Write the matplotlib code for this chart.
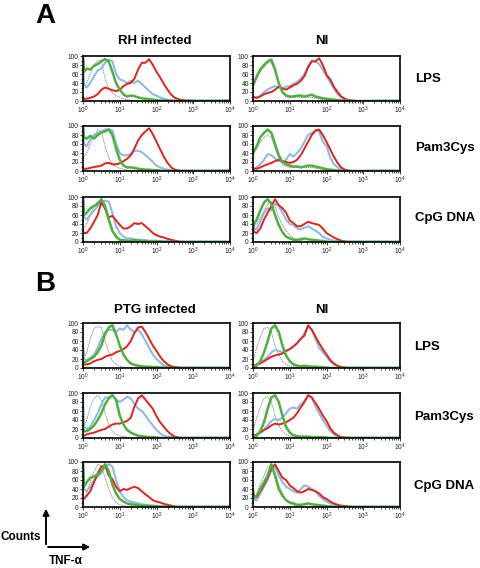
import matplotlib
matplotlib.use("Agg")
import matplotlib.pyplot as plt
from matplotlib.ticker import FixedLocator, LogLocator, NullFormatter

plt.rcParams['font.family'] = ['Liberation Sans', 'DejaVu Sans']

# fluorescence bin centres (TNF-alpha intensity)
X = [1.0, 1.07, 1.26, 1.58, 2.0, 2.51, 3.16, 3.98, 5.01, 6.31, 7.94, 10.0, 12.6, 15.8,
     20.0, 25.1, 31.6, 39.8, 50.1, 63.1, 79.4, 100, 126, 158, 200, 251, 316, 398, 501,
     631, 794, 1000, 3162, 10000]

col_titles_A = ["RH infected", "NI"]
col_titles_B = ["PTG infected", "NI"]
row_labels = ["LPS", "Pam3Cys", "CpG DNA"]
y_ticks = [0, 20, 40, 60, 80, 100]

# ---------------- Panel A, RH infected ----------------
A_rh_lps_red = [6,5,5,7,10,15,25,30,27,24,22,25,33,38,40,50,70,85,85,93,80,65,52,38,25,14,7,4,2,1,1,0,0,0]
A_rh_lps_blue = [100,35,30,40,55,68,72,85,92,88,60,48,45,40,45,40,45,38,30,22,15,12,8,5,3,2,1,1,1,1,1,1,1,2]
A_rh_lps_green = [100,65,72,70,78,82,88,93,88,65,40,25,15,10,12,11,8,6,5,4,3,2,1,1,1,0,0,0,0,0,0,0,0,0]
A_rh_lps_gray = [30,30,40,60,80,90,88,50,28,18,12,8,5,3,2,1,0,0,0,0,0,0,0,0,0,0,0,0,0,0,0,0,0,0]

A_rh_pam_red = [5,5,5,7,9,10,12,17,18,15,15,17,22,27,35,50,68,80,88,95,82,65,48,32,18,8,3,1,0,0,0,0,0,0]
A_rh_pam_blue = [100,60,55,70,80,85,88,92,93,90,60,40,35,35,38,45,45,42,35,28,20,12,8,5,3,2,1,1,1,1,1,1,1,2]
A_rh_pam_green = [100,75,72,78,72,80,85,88,92,80,50,25,12,8,8,7,5,4,3,3,2,2,1,0,0,0,0,0,0,0,0,0,0,0]
A_rh_pam_gray = [30,30,40,60,75,92,88,55,30,15,10,6,4,2,1,0,0,0,0,0,0,0,0,0,0,0,0,0,0,0,0,0,0,0]

A_rh_cpg_red = [25,20,20,30,45,60,88,75,55,58,48,38,30,30,35,42,40,42,35,28,20,15,12,10,7,5,3,1,0,0,0,0,0,0]
A_rh_cpg_blue = [100,55,50,60,70,80,88,92,90,65,35,20,12,8,8,6,5,5,4,3,3,3,2,2,2,2,1,1,1,1,1,1,1,1]
A_rh_cpg_green = [100,60,65,75,80,85,95,80,50,25,12,5,4,3,3,4,3,2,2,1,1,1,1,0,0,0,0,0,0,0,0,0,0,0]
A_rh_cpg_gray = [30,30,40,60,80,90,88,70,45,22,10,5,3,2,1,0,0,0,0,0,0,0,0,0,0,0,0,0,0,0,0,0,0,0]

# ---------------- Panel A, NI ----------------
A_ni_lps_red = [10,8,7,10,15,18,20,25,32,28,25,30,35,38,45,55,75,88,88,95,80,58,48,32,20,10,5,2,1,0,0,0,0,0]
A_ni_lps_blue = [10,8,8,12,20,25,30,33,30,28,32,33,38,42,50,60,78,90,88,82,70,55,42,28,15,8,3,2,1,0,0,0,1,1]
A_ni_lps_green = [35,40,55,70,80,88,92,70,40,20,12,10,10,12,12,10,12,14,10,8,6,5,4,3,2,1,1,0,0,0,0,0,0,0]
A_ni_lps_gray = [30,35,50,65,75,85,85,65,35,18,10,8,8,8,8,8,8,8,6,5,3,2,0,0,0,0,0,0,0,0,0,0,0,0]

A_ni_pam_red = [5,5,5,8,12,15,18,22,25,22,20,18,20,25,35,50,65,80,90,92,80,65,48,32,18,8,3,1,0,0,0,0,0,0]
A_ni_pam_blue = [5,5,8,15,25,38,35,28,22,20,25,38,32,40,50,65,80,85,90,88,65,55,30,15,8,3,1,0,0,0,0,0,1,1]
A_ni_pam_green = [40,45,55,75,85,92,85,60,35,20,15,12,10,10,8,10,12,12,10,8,6,4,3,2,1,0,0,0,0,0,0,0,0,0]
A_ni_pam_gray = [35,40,50,65,75,80,75,50,30,15,10,8,8,8,8,8,8,8,6,5,3,2,0,0,0,0,0,0,0,0,0,0,0,0]

A_ni_cpg_red = [30,22,20,30,50,65,80,95,82,75,65,48,42,35,35,40,45,42,40,38,30,20,15,10,6,3,1,0,0,0,0,0,0,0]
A_ni_cpg_blue = [35,30,28,45,65,75,70,85,80,65,50,40,38,30,28,32,35,30,25,20,12,8,5,3,2,1,1,1,1,1,1,1,1,1]
A_ni_cpg_green = [30,40,50,70,88,95,85,60,38,22,12,8,5,5,6,8,6,5,4,3,2,1,0,0,0,0,0,0,0,0,0,0,0,0]
A_ni_cpg_gray = [30,32,40,55,70,85,90,80,55,38,25,15,8,5,3,2,1,0,0,0,0,0,0,0,0,0,0,0,0,0,0,0,0,0]

# ---------------- Panel B, PTG infected ----------------
B_ptg_lps_red = [5,8,8,10,15,18,20,25,28,30,35,38,42,48,60,78,90,92,80,65,50,38,25,15,8,4,2,1,0,0,0,0,0,0]
B_ptg_lps_blue = [60,20,18,22,30,45,65,80,85,85,80,88,85,95,85,80,85,75,60,45,30,20,12,6,3,2,1,1,1,1,1,1,1,1]
B_ptg_lps_green = [15,12,15,20,25,35,50,75,90,95,75,50,30,18,10,7,5,4,3,3,2,2,1,1,0,0,0,0,0,0,0,0,0,0]
B_ptg_lps_gray = [20,22,35,65,88,92,90,60,35,15,8,4,2,1,0,0,0,0,0,0,0,0,0,0,0,0,0,0,0,0,0,0,0,0]

B_ptg_pam_red = [5,5,8,10,12,15,18,20,25,30,32,32,35,38,45,70,88,95,85,75,65,48,35,25,15,8,3,1,0,0,0,0,0,0]
B_ptg_pam_blue = [100,25,20,25,40,55,75,90,90,95,85,80,85,92,88,75,65,60,50,38,28,18,10,5,3,2,1,1,1,1,1,1,1,1]
B_ptg_pam_green = [20,15,15,20,28,40,55,75,88,95,85,50,30,18,12,8,5,4,3,2,2,1,0,0,0,0,0,0,0,0,0,0,0,0]
B_ptg_pam_gray = [20,25,40,70,88,95,85,55,30,15,8,5,3,2,1,0,0,0,0,0,0,0,0,0,0,0,0,0,0,0,0,0,0,0]

B_ptg_cpg_red = [20,18,25,35,55,75,90,92,70,62,45,35,40,38,42,45,42,35,28,22,15,12,10,7,5,3,1,0,0,0,0,0,0,0]
B_ptg_cpg_blue = [100,40,35,45,60,68,75,90,95,90,60,35,22,15,12,10,8,6,5,4,3,3,2,2,1,1,1,1,1,1,1,1,1,1]
B_ptg_cpg_green = [100,45,55,65,68,72,80,95,80,50,30,18,12,8,6,5,4,3,3,2,2,1,0,0,0,0,0,0,0,0,0,0,0,0]
B_ptg_cpg_gray = [15,20,30,55,80,95,90,65,40,20,10,5,3,1,0,0,0,0,0,0,0,0,0,0,0,0,0,0,0,0,0,0,0,0]

# ---------------- Panel B, NI ----------------
B_ni_lps_red = [5,5,8,10,15,20,25,28,30,32,38,42,48,55,65,72,95,85,70,55,42,30,18,10,5,2,1,0,0,0,0,0,0,0]
B_ni_lps_blue = [5,5,8,12,18,25,35,40,38,35,38,42,48,55,65,78,92,85,65,45,35,25,15,8,4,2,1,1,1,1,1,1,1,1]
B_ni_lps_green = [5,3,5,15,35,60,88,95,80,50,28,15,8,5,4,5,4,3,3,2,2,1,0,0,0,0,0,0,0,0,0,0,0,0]
B_ni_lps_gray = [20,25,45,70,88,90,80,50,30,15,8,5,3,1,0,0,0,0,0,0,0,0,0,0,0,0,0,0,0,0,0,0,0,0]

B_ni_pam_red = [5,5,8,12,18,22,28,32,30,32,35,40,45,55,68,80,95,90,78,65,50,38,22,12,6,2,1,0,0,0,0,0,0,0]
B_ni_pam_blue = [5,5,8,12,18,28,38,42,40,45,55,65,68,65,75,82,95,90,70,55,40,28,15,8,3,1,1,1,1,1,1,1,1,1]
B_ni_pam_green = [5,3,5,15,35,65,90,95,80,50,25,12,6,4,3,3,3,2,2,2,2,1,0,0,0,0,0,0,0,0,0,0,0,0]
B_ni_pam_gray = [20,25,45,70,88,92,80,50,28,15,8,4,2,1,0,0,0,0,0,0,0,0,0,0,0,0,0,0,0,0,0,0,0,0]

B_ni_cpg_red = [40,25,22,35,50,65,85,95,80,65,60,48,42,35,32,35,40,38,35,30,22,18,12,8,5,3,2,1,0,0,0,0,0,0]
B_ni_cpg_blue = [30,18,15,30,45,60,82,90,70,55,45,40,35,32,40,48,45,40,35,25,18,12,8,5,3,2,1,1,1,1,1,1,1,1]
B_ni_cpg_green = [30,20,25,40,55,70,95,70,40,25,15,10,8,5,5,6,8,6,5,4,3,2,1,0,0,0,0,0,0,0,0,0,0,0]
B_ni_cpg_gray = [10,15,30,50,70,88,95,75,50,30,15,8,4,2,1,0,0,0,0,0,0,0,0,0,0,0,0,0,0,0,0,0,0,0]

panels = [
    (83, 56, A_rh_lps_red, A_rh_lps_blue, A_rh_lps_green, A_rh_lps_gray),
    (83, 126, A_rh_pam_red, A_rh_pam_blue, A_rh_pam_green, A_rh_pam_gray),
    (83, 197, A_rh_cpg_red, A_rh_cpg_blue, A_rh_cpg_green, A_rh_cpg_gray),
    (253, 56, A_ni_lps_red, A_ni_lps_blue, A_ni_lps_green, A_ni_lps_gray),
    (253, 126, A_ni_pam_red, A_ni_pam_blue, A_ni_pam_green, A_ni_pam_gray),
    (253, 197, A_ni_cpg_red, A_ni_cpg_blue, A_ni_cpg_green, A_ni_cpg_gray),
    (83, 323, B_ptg_lps_red, B_ptg_lps_blue, B_ptg_lps_green, B_ptg_lps_gray),
    (83, 393, B_ptg_pam_red, B_ptg_pam_blue, B_ptg_pam_green, B_ptg_pam_gray),
    (83, 462, B_ptg_cpg_red, B_ptg_cpg_blue, B_ptg_cpg_green, B_ptg_cpg_gray),
    (253, 323, B_ni_lps_red, B_ni_lps_blue, B_ni_lps_green, B_ni_lps_gray),
    (253, 393, B_ni_pam_red, B_ni_pam_blue, B_ni_pam_green, B_ni_pam_gray),
    (253, 462, B_ni_cpg_red, B_ni_cpg_blue, B_ni_cpg_green, B_ni_cpg_gray),
]

W, H = 480, 568
fig = plt.figure(figsize=(W / 100, H / 100), dpi=100)
fig.patch.set_facecolor("white")

RED = "#e2231a"
BLUE = "#8dbbe4"
GREEN = "#4cb23c"
GRAY = "#7a7a7a"

PW, PH = 147, 45
for (lx, ty, red, blue, green, gray) in panels:
    ax = fig.add_axes([lx / W, 1 - (ty + PH) / H, PW / W, PH / H])
    ax.plot(X, gray, color=GRAY, lw=0.6, ls=(0, (1.5, 1)))
    ax.plot(X, blue, color=BLUE, lw=1.5)
    ax.plot(X, red, color=RED, lw=1.4)
    ax.plot(X, green, color=GREEN, lw=1.8)
    ax.set_xscale("log")
    ax.set_xlim(1, 1e4)
    ax.set_ylim(0, 100)
    ax.yaxis.set_major_locator(FixedLocator(y_ticks))
    ax.yaxis.set_minor_locator(FixedLocator([10, 30, 50, 70, 90]))
    ax.xaxis.set_minor_locator(LogLocator(base=10, subs=range(2, 10)))
    ax.xaxis.set_minor_formatter(NullFormatter())
    ax.tick_params(which="major", length=2.2, width=0.6, labelsize=4.8, pad=0.8, colors="#222")
    ax.tick_params(which="minor", length=1.3, width=0.5)
    for s in ax.spines.values():
        s.set_linewidth(1.2)
        s.set_color("black")

def ftext(x, y, s, **kw):
    fig.text(x / W, 1 - y / H, s, **kw)

ftext(45, 16, "A", fontsize=20, fontweight="bold", ha="center", va="center")
ftext(45, 284, "B", fontsize=20, fontweight="bold", ha="center", va="center")
ftext(155, 41, col_titles_A[0], fontsize=9.5, fontweight="bold", ha="center", va="center")
ftext(322, 41, col_titles_A[1], fontsize=9.5, fontweight="bold", ha="center", va="center")
ftext(155, 310, col_titles_B[0], fontsize=9.5, fontweight="bold", ha="center", va="center")
ftext(322, 310, col_titles_B[1], fontsize=9.5, fontweight="bold", ha="center", va="center")

for yrow, lab in zip([79, 148, 218], row_labels):
    ftext(415, yrow, lab, fontsize=9.5, fontweight="bold", ha="left", va="center")
for yrow, lab in zip([347, 417, 486], row_labels):
    ftext(414, yrow, lab, fontsize=9.5, fontweight="bold", ha="left", va="center")

# axis key
fig.add_artist(matplotlib.patches.FancyArrowPatch(
    (46 / W, 1 - 547 / H), (46 / W, 1 - 506 / H), transform=fig.transFigure,
    arrowstyle="-|>", mutation_scale=9, lw=1.4, color="black"))
fig.add_artist(matplotlib.patches.FancyArrowPatch(
    (45.3 / W, 1 - 547 / H), (93 / W, 1 - 547 / H), transform=fig.transFigure,
    arrowstyle="-|>", mutation_scale=9, lw=1.4, color="black"))
ftext(21, 537, "Counts", fontsize=8.5, fontweight="bold", ha="center", va="center")
ftext(66, 561, "TNF-α", fontsize=8.5, fontweight="bold", ha="center", va="center")

fig.savefig("out.png", dpi=100, facecolor="white")
